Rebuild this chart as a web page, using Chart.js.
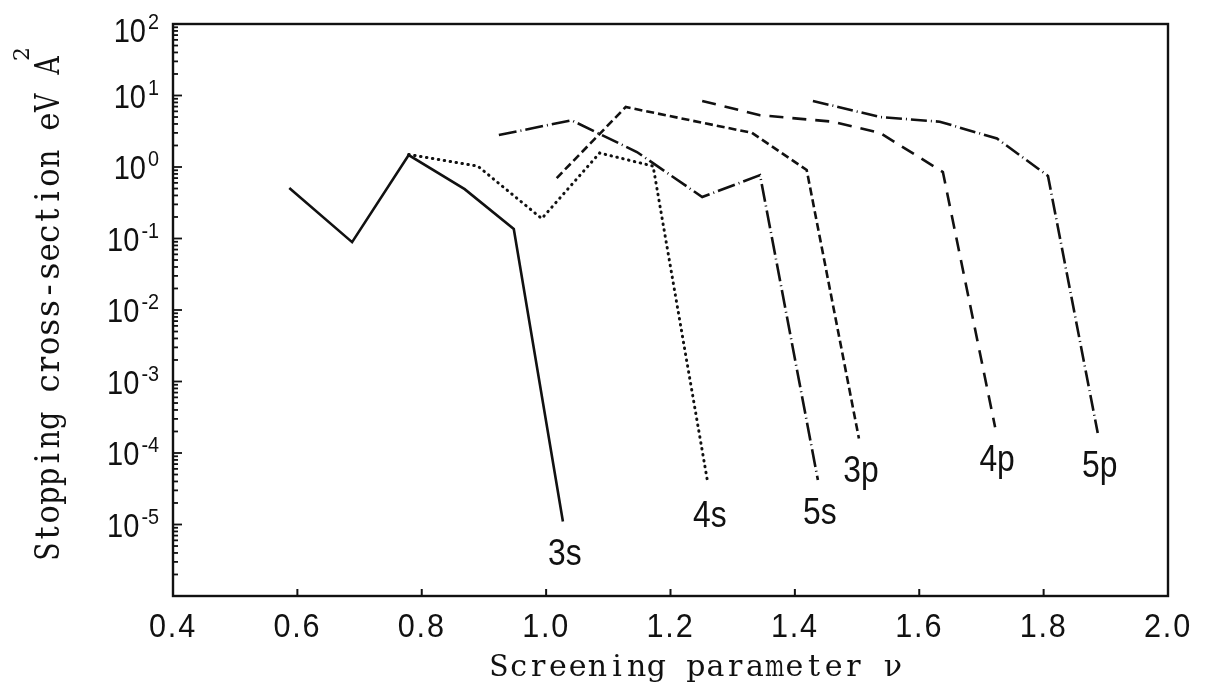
<!DOCTYPE html>
<html>
<head>
<meta charset="utf-8">
<script src="https://cdn.jsdelivr.net/npm/chart.js@4/dist/chart.umd.min.js"></script>
<style>
  body { margin: 0; background: #fff; }
  canvas { display: block; }
</style>
</head>
<body>
<canvas id="myChart" width="1210" height="691"></canvas>
<script>
// data (screening parameter nu, stopping cross-section)
const series = ['3s', '4s', '5s', '3p', '4p', '5p'];

const nu3s = [0.587, 0.688, 0.779, 0.869, 0.948, 1.027];
const sig3s = [0.51, 0.089, 1.47, 0.49, 0.136, 1.1e-5];

const nu4s = [0.779, 0.890, 0.993, 1.086, 1.172, 1.260];
const sig4s = [1.5, 1.03, 0.19, 1.57, 1.03, 3.8e-5];

const nu5s = [0.924, 1.041, 1.146, 1.251, 1.344, 1.437];
const sig5s = [2.8, 4.5, 1.62, 0.38, 0.77, 4.2e-5];

const nu3p = [1.017, 1.128, 1.331, 1.419, 1.503];
const sig3p = [0.70, 6.9, 3.0, 0.91, 1.6e-4];

const nu4p = [1.251, 1.344, 1.461, 1.537, 1.638, 1.722];
const sig4p = [8.4, 5.3, 4.3, 3.0, 0.85, 2.3e-4];

const nu5p = [1.429, 1.537, 1.633, 1.725, 1.807, 1.887];
const sig5p = [8.4, 5.0, 4.3, 2.5, 0.75, 1.9e-4];

const xTicks = ['0.4', '0.6', '0.8', '1.0', '1.2', '1.4', '1.6', '1.8', '2.0'];
const yExps = [2, 1, 0, -1, -2, -3, -4, -5];

const xs = [nu3s, nu4s, nu5s, nu3p, nu4p, nu5p];
const ys = [sig3s, sig4s, sig5s, sig3p, sig4p, sig5p];
const dashes = [[], [0.5, 5.5], [18, 4, 1, 4], [8, 4], [14, 9], [16, 4, 1, 4]];
const ink = '#111';

const datasets = series.map((name, i) => ({
    label: name,
    data: xs[i].map((v, j) => ({ x: v, y: ys[i][j] })),
    borderColor: ink,
    borderWidth: i == 1 ? 3 : 2.6,
    borderDash: dashes[i],
    borderCapStyle: i == 1 ? 'round' : 'butt',
    pointRadius: 0,
    tension: 0,
    fill: false
}));

// typewriter style: every character in a fixed cell
function drawCells(ctx, text, cell) {
    for (let i = 0; i < text.length; i++) {
        const ch = text[i];
        if (ch == ' ') continue;
        const w = ctx.measureText(ch).width;
        const sx = Math.min(1, cell * 0.98 / w);
        ctx.save();
        ctx.translate(i * cell + cell / 2, 0);
        ctx.scale(sx, 1);
        ctx.fillText(ch, -w / 2, 0);
        ctx.restore();
    }
}

// draws frame, inward ticks, labels and titles like the original plot
const paperAxes = {
    id: 'paperAxes',
    afterDraw(chart) {
        const { ctx, chartArea: a, scales } = chart;
        const x = scales.x, y = scales.y;
        ctx.save();
        ctx.strokeStyle = ink;
        ctx.fillStyle = ink;
        ctx.lineWidth = 2.4;
        ctx.strokeRect(a.left, a.top, a.right - a.left, a.bottom - a.top);

        // x ticks + labels
        ctx.lineWidth = 2;
        ctx.font = '34px "Liberation Sans", sans-serif';
        ctx.textAlign = 'center';
        ctx.textBaseline = 'top';
        xTicks.forEach(t => {
            const px = x.getPixelForValue(parseFloat(t));
            if (px > a.left + 2 && px < a.right - 2) {
                ctx.beginPath();
                ctx.moveTo(px, a.bottom);
                ctx.lineTo(px, a.bottom - 7);
                ctx.stroke();
            }
            ctx.save();
            ctx.translate(px, 611);
            ctx.scale(0.9, 1);
            ctx.letterSpacing = '2px';
            ctx.fillText(t, 0, 0);
            ctx.restore();
        });

        // y ticks, major + minor (log)
        ctx.lineWidth = 1.8;
        for (let e = -6; e <= 2; e++) {
            for (let k = 1; k <= 9; k++) {
                const v = k * Math.pow(10, e);
                if (v > 100) break;
                const py = y.getPixelForValue(v);
                ctx.beginPath();
                ctx.moveTo(a.left, py);
                ctx.lineTo(a.left + (k == 1 ? 9 : 5), py);
                ctx.stroke();
            }
        }

        // y labels 10^n
        ctx.textAlign = 'left';
        ctx.textBaseline = 'alphabetic';
        yExps.forEach(e => {
            const py = y.getPixelForValue(Math.pow(10, e)) + (e == 2 ? 6 : 0);
            const sup = e < 0 ? '-' + (-e) : String(e);
            ctx.font = '22px "Liberation Sans", sans-serif';
            const supW = ctx.measureText(sup).width * 0.9;
            ctx.font = '33px "Liberation Sans", sans-serif';
            const baseW = ctx.measureText('10').width * 0.88;
            const right = 159;
            ctx.save();
            ctx.translate(right - supW - baseW - 2, py + 12);
            ctx.scale(0.88, 1);
            ctx.fillText('10', 0, 0);
            ctx.restore();
            ctx.save();
            ctx.font = '22px "Liberation Sans", sans-serif';
            ctx.translate(right - supW, py - 1);
            ctx.scale(0.9, 1);
            ctx.fillText(sup, 0, 0);
            ctx.restore();
        });

        // curve names under the end of each curve
        ctx.font = '37px "Liberation Sans", sans-serif';
        ctx.textAlign = 'center';
        ctx.textBaseline = 'top';
        chart.data.datasets.forEach(ds => {
            const last = ds.data[ds.data.length - 1];
            const px = x.getPixelForValue(last.x);
            const py = y.getPixelForValue(last.y);
            ctx.save();
            ctx.translate(px + 2, py + 15);
            ctx.scale(0.86, 1);
            ctx.fillText(ds.label, 0, 0);
            ctx.restore();
        });

        // x title
        ctx.textAlign = 'left';
        ctx.textBaseline = 'alphabetic';
        ctx.font = '30px "DejaVu Serif", serif';
        ctx.save();
        ctx.translate(489, 676);
        drawCells(ctx, 'Screening parameter \u03BD', 19.7);
        ctx.restore();

        // y title (rotated)
        ctx.save();
        ctx.translate(59, 561);
        ctx.rotate(-Math.PI / 2);
        ctx.font = '33px "DejaVu Serif", serif';
        const yt = 'Stopping cross-section eV A';
        drawCells(ctx, yt, 18.7);
        ctx.font = '22px "DejaVu Serif", serif';
        ctx.fillText('2', yt.length * 18.7 - 5, -30);
        ctx.restore();

        ctx.restore();
    }
};

const ctx = document.getElementById('myChart').getContext('2d');
const myChart = new Chart(ctx, {
    type: 'line',
    data: { datasets: datasets },
    options: {
        responsive: false,
        animation: false,
        layout: { padding: { left: 173, right: 42, top: 24, bottom: 95 } },
        plugins: { legend: { display: false }, tooltip: { enabled: false } },
        scales: {
            x: { type: 'linear', min: 0.4, max: 2.0, display: false },
            y: { type: 'logarithmic', min: 1e-6, max: 100, display: false }
        }
    },
    plugins: [paperAxes]
});
</script>
</body>
</html>
